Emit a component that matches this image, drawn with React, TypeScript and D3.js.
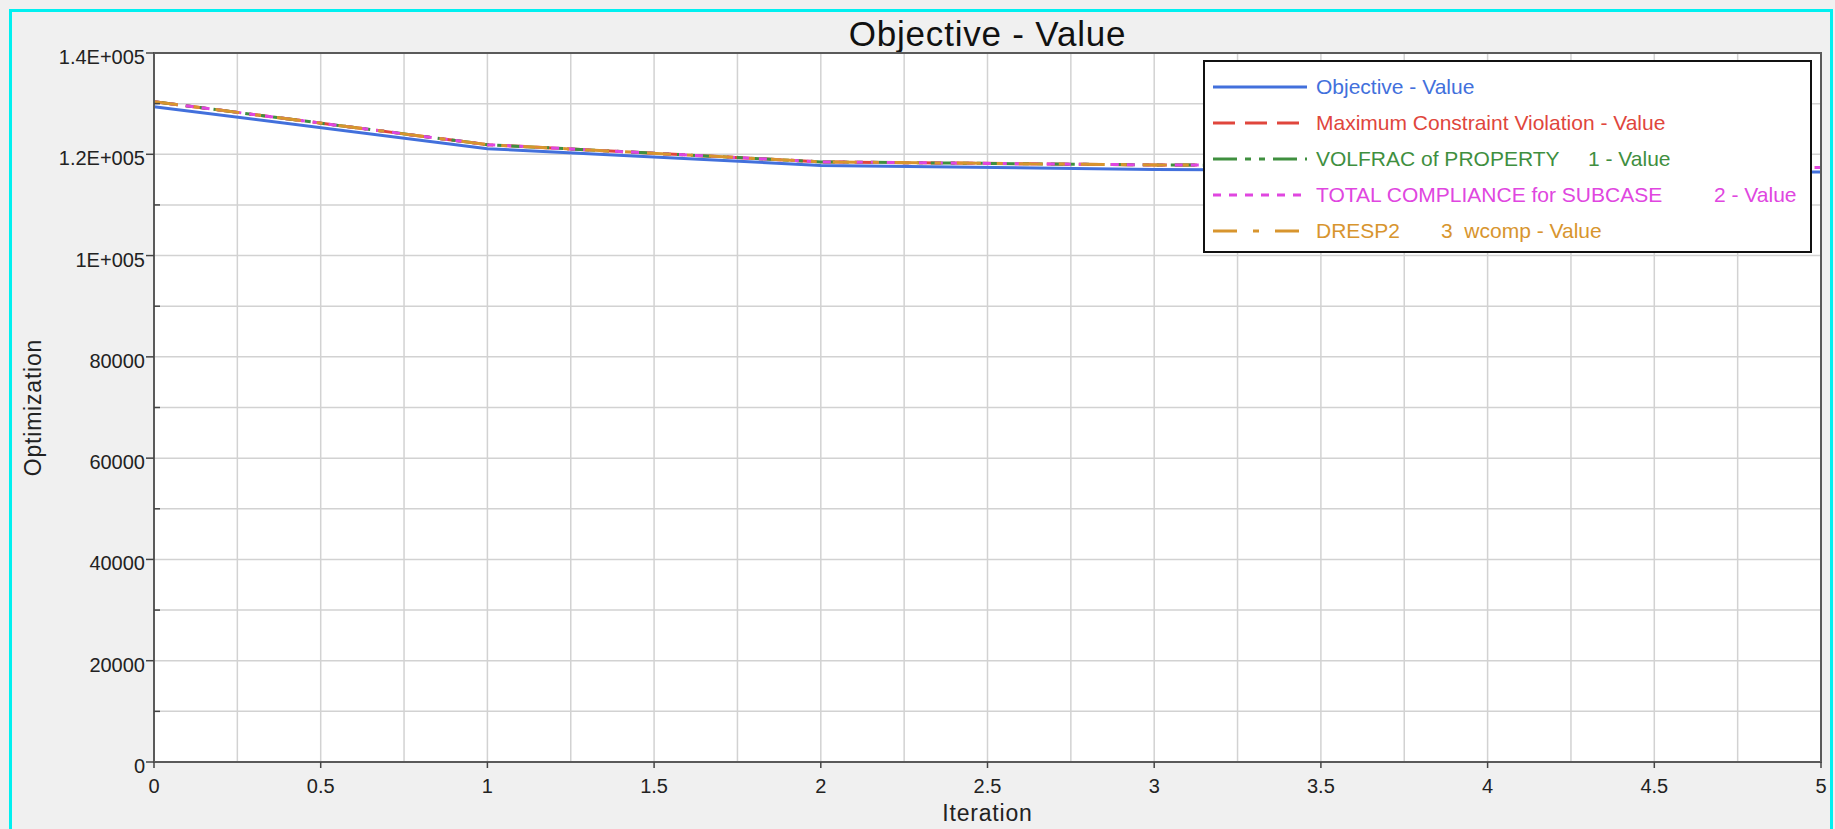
import { useEffect } from "react"
import * as d3 from "d3"

// iterations and history values
const iterations = [0, 1, 2, 3, 4, 5]
const objectiveValue = [129400, 121100, 117800, 117000, 116700, 116500]
const maxViolationValue = [130400, 121900, 118500, 117900, 117600, 117400]
const volfracValue = [130400, 121900, 118500, 117900, 117600, 117400]
const complianceValue = [130400, 121900, 118500, 117900, 117600, 117400]
const dresp2Value = [130400, 121900, 118500, 117900, 117600, 117400]

const yTicks = [0, 20000, 40000, 60000, 80000, 100000, 120000, 140000]
const yMinor = d3.range(0, 140001, 10000)
const xTicks = d3.range(0, 5.001, 0.5)
const xMinor = d3.range(0, 5.001, 0.25)

const series = [
    { name: "Maximum Constraint Violation - Value", extra: "", extraX: 0, values: maxViolationValue, color: "#e0463c", dash: "22,10" },
    { name: "VOLFRAC of PROPERTY", extra: "1 - Value", extraX: 1588, values: volfracValue, color: "#3f8f3f", dash: "24,8,6,8,6,8" },
    { name: "TOTAL COMPLIANCE for SUBCASE", extra: "2 - Value", extraX: 1714, values: complianceValue, color: "#e046e0", dash: "8,8" },
    { name: "DRESP2", extra: "3  wcomp - Value", extraX: 1441, values: dresp2Value, color: "#d8952e", dash: "24,16,6,16" },
]
const objective = { name: "Objective - Value", extra: "", extraX: 0, values: objectiveValue, color: "#4270dc", dash: "" }

const legendOrder = [objective, ...series]

function fmtY(v: number) {
    if (v === 0) return "0"
    if (v >= 100000) return `${+(v / 100000).toFixed(1)}E+005`
    return String(v)
}

export default function App() {
    useEffect(() => {
        document.body.style.margin = "0"
        document.body.style.background = "#f0f0f0"
    }, [])

    const W = 1835
    const H = 829
    const left = 154
    const right = 1821
    const top = 53
    const bottom = 762

    const x = d3.scaleLinear().domain([0, 5]).range([left, right])
    const y = d3.scaleLinear().domain([0, 140000]).range([bottom, top])

    const line = (vals: number[]) =>
        d3.line<number>()
            .x((_, i) => x(iterations[i]))
            .y(d => y(d))(vals) || ""

    const font = "'Liberation Sans', Arial, sans-serif"

    const legX = 1204
    const legY = 61
    const legW = 607
    const legH = 191
    const rowY = (i: number) => 87 + i * 36

    return (
        <svg width={W} height={H} style={{ display: "block", background: "#f0f0f0" }} fontFamily={font}>
            <rect x={10.5} y={10.5} width={1821} height={840} fill="#f0f0f0" stroke="#00f0f0" strokeWidth={3} />

            <text x={(left + right) / 2} y={46} textAnchor="middle" fontSize={35} letterSpacing={0.8} fill="#111">Objective - Value</text>

            <rect x={left} y={top} width={right - left} height={bottom - top} fill="#fff" />

            {yMinor.map(v => (
                <line key={"gy" + v} x1={left} x2={right} y1={y(v)} y2={y(v)} stroke="#d2d2d2" strokeWidth={1.5} />
            ))}
            {xMinor.map(v => (
                <line key={"gx" + v} x1={x(v)} x2={x(v)} y1={top} y2={bottom} stroke="#d2d2d2" strokeWidth={1.5} />
            ))}

            {series.map(s => (
                <path key={s.name} d={line(s.values)} fill="none" stroke={s.color} strokeWidth={3} strokeDasharray={s.dash} />
            ))}
            <path d={line(objective.values)} fill="none" stroke={objective.color} strokeWidth={3} />

            <rect x={left} y={top} width={right - left} height={bottom - top} fill="none" stroke="#5a5a5a" strokeWidth={2} />

            {yTicks.map(v => (
                <g key={"yt" + v}>
                    <line x1={left - 8} x2={left} y1={y(v)} y2={y(v)} stroke="#444" strokeWidth={1.5} />
                    <text x={left - 9} y={y(v) + 11} textAnchor="end" fontSize={20} fill="#222">{fmtY(v)}</text>
                </g>
            ))}
            {yMinor.filter(v => v % 20000 !== 0).map(v => (
                <line key={"ym" + v} x1={left} x2={left + 6} y1={y(v)} y2={y(v)} stroke="#444" strokeWidth={1.5} />
            ))}
            {xTicks.map(v => (
                <g key={"xt" + v}>
                    <line x1={x(v)} x2={x(v)} y1={bottom} y2={bottom + 6} stroke="#444" strokeWidth={1.5} />
                    <text x={x(v)} y={793} textAnchor="middle" fontSize={20} fill="#222">{String(v)}</text>
                </g>
            ))}

            <text x={(left + right) / 2} y={821} textAnchor="middle" fontSize={23} letterSpacing={0.8} fill="#222">Iteration</text>
            <text transform={`translate(41,${(top + bottom) / 2}) rotate(-90)`} textAnchor="middle" fontSize={23} letterSpacing={0.8} fill="#222">Optimization</text>

            <rect x={legX} y={legY} width={legW} height={legH} fill="#fff" stroke="#111" strokeWidth={2} />
            {legendOrder.map((s, i) => (
                <g key={"lg" + s.name}>
                    <line x1={1213} x2={1307} y1={rowY(i)} y2={rowY(i)} stroke={s.color} strokeWidth={3} strokeDasharray={s.dash} />
                    <text x={1316} y={rowY(i) + 7} fontSize={21} fill={s.color}>{s.name}</text>
                    {s.extra && (
                        <text x={s.extraX} y={rowY(i) + 7} fontSize={21} fill={s.color} style={{ whiteSpace: "pre" }}>{s.extra}</text>
                    )}
                </g>
            ))}
        </svg>
    )
}
